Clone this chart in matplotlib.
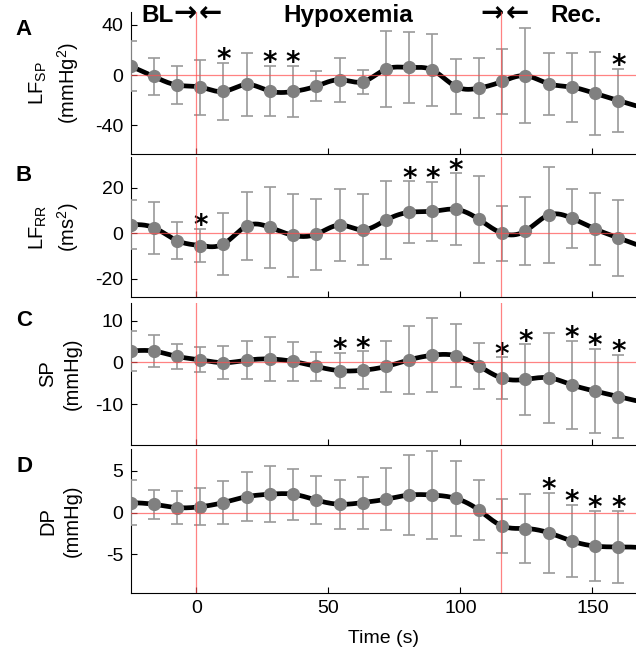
import numpy as np
import matplotlib
matplotlib.use('Agg')
import matplotlib.pyplot as plt

plt.rcParams['font.family'] = ['Liberation Sans', 'DejaVu Sans']
plt.rcParams['mathtext.fontset'] = 'custom'
plt.rcParams['mathtext.rm'] = 'Liberation Sans'
plt.rcParams['mathtext.it'] = 'Liberation Sans:italic'
plt.rcParams['axes.unicode_minus'] = False

# time of each averaged sample (s)
time = [-25.0, -16.2, -7.4, 1.4, 10.2, 19.0, 27.8, 36.6, 45.4, 54.2, 63.0,
        71.8, 80.6, 89.4, 98.2, 107.0, 115.8, 124.6, 133.4, 142.2, 151.0, 159.8]

# A: LF of systolic pressure
lfsp = [7.2, -1.1, -8.0, -9.6, -13.1, -7.5, -12.8, -13.1, -8.8, -3.7, -5.3,
        4.8, 6.1, 4.0, -9.1, -10.4, -5.1, -0.5, -6.9, -9.6, -14.7, -20.3]
lfsp_sd = [20.0, 14.8, 15.4, 22.0, 22.8, 24.8, 20.0, 20.7, 11.9, 17.6, 9.7,
           30.4, 28.0, 28.7, 22.0, 24.0, 26.0, 37.7, 24.7, 27.6, 33.0, 25.5]
lfsp_sig = [4, 6, 7, 21]

# B: LF of RR interval
lfrr = [3.8, 2.5, -3.2, -5.4, -4.7, 3.2, 2.6, -0.9, -0.4, 3.6, 1.5,
        5.8, 9.2, 9.6, 10.5, 6.1, 0.0, 1.0, 8.0, 6.6, 1.9, -2.0]
lfrr_sd = [10.7, 11.4, 8.0, 7.2, 13.6, 14.9, 17.7, 18.1, 15.6, 15.8, 15.5,
           17.0, 13.5, 12.8, 15.7, 19.1, 12.0, 14.7, 21.0, 13.0, 15.8, 16.6]
lfrr_sig = [3, 12, 13, 14]

# C: systolic pressure
sp = [2.7, 2.7, 1.4, 0.6, -0.1, 0.5, 0.8, 0.2, -1.0, -2.0, -1.9,
      -1.0, 0.6, 1.7, 1.6, -0.9, -3.8, -4.1, -3.7, -5.4, -6.9, -8.2]
sp_sd = [4.8, 3.8, 2.9, 3.0, 4.0, 4.5, 5.2, 4.6, 3.5, 4.2, 4.5,
         6.0, 8.2, 8.8, 7.5, 5.5, 5.0, 8.4, 10.8, 10.6, 10.1, 9.9]
sp_sig = [9, 10, 16, 17, 19, 20, 21]

# D: diastolic pressure
dp = [1.2, 1.0, 0.6, 0.7, 1.2, 1.9, 2.2, 2.2, 1.5, 1.0, 1.2,
      1.6, 2.1, 2.1, 1.7, 0.3, -1.6, -1.9, -2.4, -3.4, -4.0, -4.1]
dp_sd = [2.65, 1.75, 2.0, 2.2, 2.6, 2.9, 3.35, 3.05, 2.9, 2.95, 3.1,
         3.7, 4.8, 5.25, 4.5, 3.6, 3.25, 4.15, 4.8, 4.3, 4.2, 4.35]
dp_sig = [18, 19, 20, 21]

panels = [
    ('A', lfsp, lfsp_sd, lfsp_sig, 'LF$_{\\mathrm{SP}}$\n(mmHg$^2$)', (-63, 50.6), [-40, 0, 40]),
    ('B', lfrr, lfrr_sd, lfrr_sig, 'LF$_{\\mathrm{RR}}$\n(ms$^2$)', (-27.8, 33.3), [-20, 0, 20]),
    ('C', sp, sp_sd, sp_sig, 'SP\n(mmHg)', (-19.8, 14.2), [-10, 0, 10]),
    ('D', dp, dp_sd, dp_sig, 'DP\n(mmHg)', (-9.64, 7.6), [-5, 0, 5]),
]

hypox_start = 0.0
hypox_end = 115.3


def spline(x, y, xnew):
    # natural cubic spline, last segment used past the end
    x = np.asarray(x, float)
    y = np.asarray(y, float)
    n = len(x)
    h = np.diff(x)
    A = np.zeros((n, n))
    r = np.zeros(n)
    A[0, 0] = A[-1, -1] = 1.0
    for i in range(1, n - 1):
        A[i, i - 1] = h[i - 1]
        A[i, i] = 2 * (h[i - 1] + h[i])
        A[i, i + 1] = h[i]
        r[i] = 3 * ((y[i + 1] - y[i]) / h[i] - (y[i] - y[i - 1]) / h[i - 1])
    c = np.linalg.solve(A, r)
    b = (y[1:] - y[:-1]) / h - h * (2 * c[:-1] + c[1:]) / 3
    d = (c[1:] - c[:-1]) / (3 * h)
    idx = np.clip(np.searchsorted(x, xnew) - 1, 0, n - 2)
    dx = xnew - x[idx]
    return y[idx] + b[idx] * dx + c[idx] * dx ** 2 + d[idx] * dx ** 3


fig = plt.figure(figsize=(6.36, 6.55), dpi=100)
H = 655.0
W = 636.0
# pixel extents (top, bottom) of each panel
extents = [(11.7, 154.0), (157.3, 296.7), (303.0, 445.0), (449.0, 593.3)]
left_px = 130.5
xlim = (-25, 166.5)
xs = np.linspace(time[0], xlim[1], 600)

axes = []
for (letter, vals, sd, sig, ylab, ylim, yt), (top, bot) in zip(panels, extents):
    ax = fig.add_axes([left_px / W, 1 - bot / H, 1 - left_px / W, (bot - top) / H])
    axes.append(ax)
    ax.plot(xs, spline(time, vals, xs), color='black', lw=3.4, zorder=2,
            solid_capstyle='round')
    ax.errorbar(time, vals, yerr=sd, fmt='none', ecolor='#9a9a9a', elinewidth=1.2,
                capsize=4, capthick=1.2, zorder=3)
    ax.plot(time, vals, 'o', color='#808080', ms=8.5, zorder=4)
    ax.axhline(0, color='#ff4d4d', lw=0.9, alpha=0.7, zorder=5)
    ax.axvline(hypox_start, color='#ff4d4d', lw=0.9, alpha=0.7, zorder=5)
    ax.axvline(hypox_end, color='#ff4d4d', lw=0.9, alpha=0.7, zorder=5)
    for i in sig:
        ax.annotate('*', (time[i], vals[i] + sd[i]), xytext=(0, 2),
                    textcoords='offset points', ha='center', va='center',
                    fontsize=20, fontweight='bold', family='DejaVu Sans',
                    annotation_clip=False)
    ax.set_xlim(xlim)
    ax.set_ylim(ylim)
    ax.set_yticks(yt)
    ax.set_xticks([0, 50, 100, 150])
    ax.spines['top'].set_visible(False)
    ax.spines['right'].set_visible(False)
    ax.tick_params(direction='in', length=4, labelsize=14, pad=5)
    ax.set_ylabel(ylab, fontsize=14.5, linespacing=1.35)
    ax.yaxis.set_label_coords(-0.097, 0.5)
    fig.text(24 / W, 1 - (top + 18) / H, letter, fontsize=16, fontweight='bold',
             ha='center', va='center')
    if letter != 'D':
        ax.tick_params(labelbottom=False)

axes[-1].set_xlabel('Time (s)', fontsize=14, labelpad=9)

# phase header on top panel
axA = axes[0]
tr = axA.get_xaxis_transform()
yb = (154.0 - 21.7) / (154.0 - 11.7)
kw = dict(transform=tr, fontsize=17.5, fontweight='bold', va='baseline', clip_on=False)
akw = dict(kw, family='DejaVu Sans', fontsize=20)
axA.text(-8.8, yb, 'BL', ha='right', **kw)
axA.text(0.0, yb, '\u2192', ha='right', **akw)
axA.text(0.8, yb, '\u2190', ha='left', **akw)
axA.text((hypox_start + hypox_end) / 2, yb, 'Hypoxemia', ha='center', **kw)
axA.text(hypox_end + 1.0, yb, '\u2192', ha='right', **akw)
axA.text(hypox_end + 1.9, yb, '\u2190', ha='left', **akw)
axA.text(143.6, yb, 'Rec.', ha='center', **kw)

fig.savefig('out.png', dpi=100)
